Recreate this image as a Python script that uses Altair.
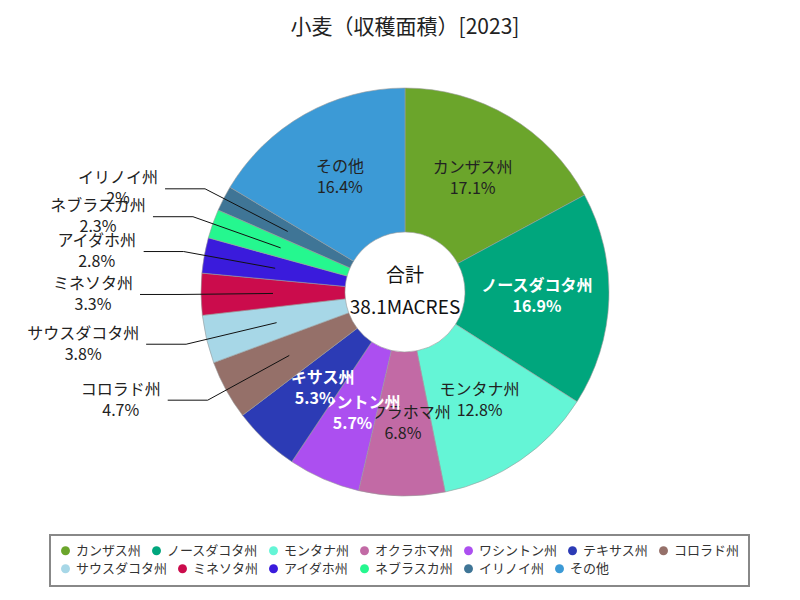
import math
import altair as alt
import pandas as pd

# ---- data ----
names = ["カンザス州", "ノースダコタ州", "モンタナ州", "オクラホマ州", "ワシントン州",
         "テキサス州", "コロラド州", "サウスダコタ州", "ミネソタ州", "アイダホ州",
         "ネブラスカ州", "イリノイ州", "その他"]
shares = [17.1, 16.9, 12.8, 6.8, 5.7, 5.3, 4.7, 3.8, 3.3, 2.8, 2.3, 2.0, 16.4]
colors = ["#6ba52b", "#00a67d", "#64f5d6", "#c26aa5", "#ac4ff0", "#2c3bb5",
          "#957069", "#a7d7e7", "#cb0c4c", "#3a1bdc", "#25f78f", "#3f7596", "#3c9ad6"]
white_text = ["ノースダコタ州", "ワシントン州", "テキサス州"]
center_lines = ["合計", "38.1MACRES"]
title_text = "小麦（収穫面積）[2023]"

# ---- layout / style constants ----
FONT = "Noto Sans CJK JP"
W, H = 754, 488
PAD = {"left": 20, "top": 40, "right": 10, "bottom": 56}
R_OUT, R_IN = 204, 60
R_LABEL = 132
R_ELBOW = 225
SEG = 40
GAP = 7
FS = 16
LH = 21
OUTSIDE_BELOW = 5.0
LEGEND_ROW1 = 7          # legend entries on the first row
LEG_X, LEG_Y, LEG_PAD, LEG_ROW = 22, 487, 9, 18

rows = []
cum = 0.0
for i, (n, v) in enumerate(zip(names, shares)):
    start, end = cum, cum + v
    cum = end
    rows.append(dict(idx=i, name=n, share=v, start=start, end=end,
                     mid=(start + end) / 2, label=f"{n}\n{v:g}%"))
df = pd.DataFrame(rows)
total = cum

# leader lines and outside labels derived from each slice's mid angle
line_rows, out_rows = [], []
for r in rows:
    if r["share"] >= OUTSIDE_BELOW:
        continue
    a = r["mid"] / total * 2 * math.pi
    s, c = math.sin(a), math.cos(a)
    side = -1 if s < 0 else 1
    p0 = (R_LABEL * s, R_LABEL * c)
    p1 = (R_ELBOW * s, R_ELBOW * c)
    p2 = (p1[0] + side * SEG, p1[1])
    for k, p in enumerate([p0, p1, p2]):
        line_rows.append(dict(name=r["name"], pt=k, x=p[0], y=p[1]))
    w = len(r["name"]) * FS
    out_rows.append(dict(name=r["name"], label=r["label"],
                         x=p2[0] + side * (GAP + w / 2), y=p2[1]))
lines_df = pd.DataFrame(line_rows)
out_df = pd.DataFrame(out_rows)
center_df = pd.DataFrame([{"t": "\n".join(center_lines)}])

xs = alt.Scale(domain=[-W / 2, W / 2])
ys = alt.Scale(domain=[-H / 2, H / 2])
ts = alt.Scale(domain=[0, total], range=[0, 2 * math.pi])
scale_row1 = alt.Scale(domain=names[:LEGEND_ROW1], range=colors[:LEGEND_ROW1])
scale_row2 = alt.Scale(domain=names[LEGEND_ROW1:], range=colors[LEGEND_ROW1:])

leg_common = dict(orient="none", direction="horizontal", gridAlign="each",
                  symbolType="circle", symbolSize=80, symbolStrokeWidth=0,
                  labelFont=FONT, labelFontSize=13, labelColor="#333333",
                  labelOffset=4, columnPadding=8, padding=LEG_PAD)
# first row carries the frame; its blank bottom title reserves room for row two
leg1 = alt.Legend(title=" ", titleOrient="bottom", titleFontSize=14, titlePadding=5,
                  columns=LEGEND_ROW1, legendX=LEG_X, legendY=LEG_Y,
                  strokeColor="#888888", **leg_common)
leg2 = alt.Legend(title=None, columns=len(names) - LEGEND_ROW1,
                  legendX=LEG_X, legendY=LEG_Y + LEG_ROW, **leg_common)

cx = alt.X(datum=0, type="quantitative", scale=xs, axis=None)
cy = alt.Y(datum=0, type="quantitative", scale=ys, axis=None)

layers = []
for i, n in enumerate(names):
    enc = dict(theta=alt.Theta("start:Q", scale=ts, stack=False),
               theta2="end:Q", x=cx, y=cy)
    if i < LEGEND_ROW1:
        enc["fill"] = alt.Fill("name:N", scale=scale_row1, legend=leg1)
    else:
        enc["color"] = alt.Color("name:N", scale=scale_row2, legend=leg2)
    arc = alt.Chart(df).transform_filter(alt.datum.idx == i).mark_arc(
        outerRadius=R_OUT, innerRadius=R_IN, stroke="#9a9a9a", strokeWidth=0.6
    ).encode(**enc)
    layers.append(arc)
    if shares[i] >= OUTSIDE_BELOW:
        txt = alt.Chart(df).transform_filter(alt.datum.idx == i).mark_text(
            radius=R_LABEL, font=FONT, fontSize=FS, lineBreak="\n", lineHeight=LH,
            align="center", baseline="middle", dy=-LH / 2,
            color="#ffffff" if n in white_text else "#222222",
            fontWeight="bold" if n in white_text else "normal",
        ).encode(
            theta=alt.Theta("mid:Q", scale=ts, stack=False),
            text="label:N",
            x=cx, y=cy,
        )
        layers.append(txt)

leaders = alt.Chart(lines_df).mark_line(color="#111111", strokeWidth=1).encode(
    x=alt.X("x:Q", scale=xs, axis=None),
    y=alt.Y("y:Q", scale=ys, axis=None),
    detail="name:N",
    order="pt:Q",
)
out_text = alt.Chart(out_df).mark_text(
    font=FONT, fontSize=FS, lineBreak="\n", lineHeight=LH, dy=-LH / 2,
    align="center", baseline="middle", color="#222222",
).encode(
    x=alt.X("x:Q", scale=xs, axis=None),
    y=alt.Y("y:Q", scale=ys, axis=None),
    text="label:N",
)
center_text = alt.Chart(center_df).mark_text(
    font=FONT, fontSize=19, lineBreak="\n", lineHeight=32, dy=-16,
    align="center", baseline="middle", color="#111111",
).encode(x=cx, y=cy, text="t:N")

chart = alt.layer(*layers, leaders, out_text, center_text).properties(
    width=W, height=H, padding=PAD, autosize="none",
    title=alt.TitleParams(text=title_text, font=FONT, fontSize=21,
                          fontWeight="normal", color="#222222",
                          anchor="middle", offset=10),
    background="white",
).configure_view(strokeWidth=0).configure_legend(strokeWidth=2)

chart.save("out.html", embed_options={"renderer": "svg", "actions": False})
